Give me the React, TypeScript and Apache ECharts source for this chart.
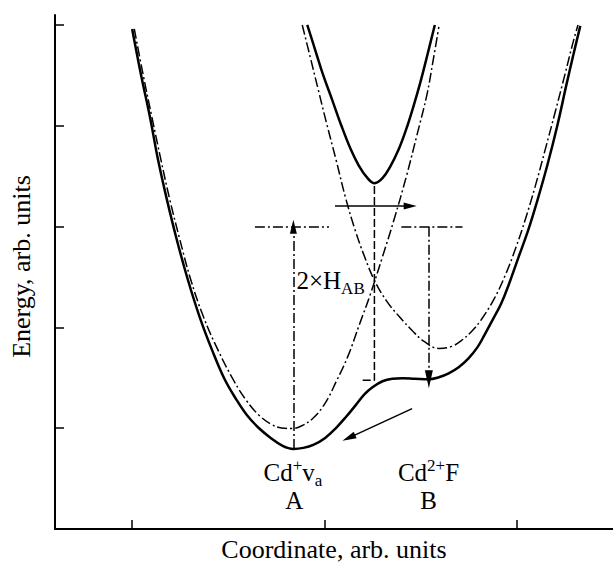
import React, { useEffect, useRef } from "react";
import * as echarts from "echarts";

// Axis ticks (arbitrary units)
const xTicks = [1, 2, 3];
const yTicks = [1, 2, 3, 4, 5];

// Lower adiabatic potential (solid)
const lowerAdiabatic: number[][] = [
  [1.001, 4.962], [1.047, 4.508], [1.094, 4.083], [1.135, 3.668], [1.181, 3.273],
  [1.232, 2.878], [1.289, 2.483], [1.351, 2.108], [1.417, 1.772], [1.479, 1.496],
  [1.541, 1.289], [1.597, 1.131], [1.659, 1.002], [1.721, 0.904], [1.783, 0.825],
  [1.839, 0.795], [1.891, 0.805], [1.942, 0.834], [2.004, 0.904], [2.06, 1.002],
  [2.112, 1.111], [2.163, 1.229], [2.209, 1.338], [2.25, 1.407], [2.302, 1.466],
  [2.353, 1.491], [2.405, 1.496], [2.471, 1.491], [2.543, 1.486], [2.595, 1.506],
  [2.646, 1.545], [2.698, 1.605], [2.749, 1.693], [2.795, 1.802], [2.831, 1.921],
  [2.878, 2.088], [2.919, 2.237], [2.96, 2.434], [3.006, 2.681], [3.058, 2.957],
  [3.109, 3.273], [3.16, 3.619], [3.212, 4.014], [3.258, 4.409], [3.294, 4.705],
  [3.33, 4.992],
];

// Upper adiabatic potential (solid)
const upperAdiabatic: number[][] = [
  [1.911, 5.001], [1.952, 4.755], [1.993, 4.508], [2.04, 4.261], [2.086, 4.014],
  [2.137, 3.767], [2.178, 3.609], [2.22, 3.491], [2.261, 3.431], [2.302, 3.481],
  [2.343, 3.599], [2.384, 3.757], [2.425, 3.965], [2.461, 4.182], [2.497, 4.419],
  [2.533, 4.686], [2.574, 5.001],
];

// Diabatic term A (dash-dot)
const diabaticA: number[][] = [
  [1.012, 4.962], [1.058, 4.508], [1.104, 4.083], [1.15, 3.668], [1.196, 3.273],
  [1.248, 2.878], [1.304, 2.483], [1.371, 2.108], [1.448, 1.772], [1.531, 1.466],
  [1.597, 1.269], [1.659, 1.131], [1.721, 1.042], [1.777, 1.002], [1.829, 0.997],
  [1.88, 1.022], [1.942, 1.101], [2.004, 1.249], [2.06, 1.457], [2.122, 1.713],
  [2.184, 2.039], [2.24, 2.335], [2.302, 2.701], [2.363, 3.076], [2.425, 3.491],
  [2.482, 3.915], [2.533, 4.31], [2.564, 4.636], [2.595, 4.982],
];

// Diabatic term B (dash-dot)
const diabaticB: number[][] = [
  [1.885, 5.001], [1.926, 4.686], [1.968, 4.36], [2.009, 4.044], [2.06, 3.668],
  [2.112, 3.273], [2.158, 2.977], [2.209, 2.701], [2.261, 2.464], [2.322, 2.266],
  [2.389, 2.108], [2.456, 1.97], [2.518, 1.861], [2.595, 1.792], [2.662, 1.812],
  [2.713, 1.871], [2.765, 1.96], [2.816, 2.079], [2.883, 2.286], [2.939, 2.513],
  [2.993, 2.78], [3.045, 3.076], [3.096, 3.402], [3.148, 3.767], [3.199, 4.133],
  [3.25, 4.508], [3.289, 4.804], [3.318, 5.001],
];

// Splitting marker (dashed)
const gapMarker: number[][] = [[2.199, 1.476], [2.26, 1.476], [2.26, 3.431]];

// Level lines and arrows
const levelLeft: number[][] = [[1.639, 3.0], [2.024, 3.0]];
const levelRight: number[][] = [[2.4, 3.0], [2.718, 3.0]];
const arrowA: number[][] = [[1.839, 0.795], [1.839, 3.0]];
const arrowB: number[][] = [[2.543, 3.0], [2.543, 1.486]];
const arrowTransfer: number[][] = [[2.055, 3.204], [2.446, 3.204]];
const arrowRelax: number[][] = [[2.456, 1.195], [2.127, 0.904]];

// Annotation texts
const labelTexts = ["{m|2×H}{b|AB}", "{m|Cd}{s|+}{m|v}{b|a}", "{m|A}", "{m|Cd}{s|2+}{m|F}", "{m|B}"];
const labelPositions: number[][] = [[1.855, 2.464], [1.837, 0.558], [1.844, 0.281], [2.541, 0.558], [2.541, 0.281]];
const labelAligns = ["left", "center", "center", "center", "center"];

const FONT = "'Liberation Serif', 'Times New Roman', serif";
const DASH_DOT = [10, 3, 2, 3];

export default function App() {
  const ref = useRef<HTMLDivElement>(null);

  useEffect(() => {
    document.body.style.margin = "0";
    if (!ref.current) return;
    const chart = echarts.init(ref.current, undefined, { renderer: "svg" });

    const curve = (name: string, data: number[][], width: number, type: any) => ({
      name,
      type: "line",
      data,
      smooth: 0.4,
      showSymbol: false,
      symbol: "none",
      silent: true,
      lineStyle: { color: "#000", width, type },
      emphasis: { disabled: true },
    });

    const seg = (pts: number[][], endSymbol: string, size: number[]) => [
      { coord: pts[0], symbol: "none" },
      { coord: pts[1], symbol: endSymbol, symbolSize: size },
    ];

    const option: any = {
      animation: false,
      backgroundColor: "#fff",
      grid: { left: 49, right: 0, top: 15, bottom: 35.5, containLabel: false },
      xAxis: {
        type: "value",
        min: 0.6,
        max: 3.5,
        name: "Coordinate, arb. units",
        nameLocation: "middle",
        nameGap: 7,
        nameTextStyle: { fontFamily: FONT, fontSize: 26, color: "#000" },
        axisLine: { show: true, onZero: false, lineStyle: { color: "#000", width: 2 } },
        axisTick: { show: true, inside: true, length: 9, customValues: xTicks, lineStyle: { color: "#000", width: 1.5 } },
        axisLabel: { show: false },
        splitLine: { show: false },
      },
      yAxis: {
        type: "value",
        min: 0,
        max: 5.1,
        name: "Energy, arb. units",
        nameLocation: "middle",
        nameGap: 21,
        nameTextStyle: { fontFamily: FONT, fontSize: 26, color: "#000", padding: [0, 0, 0, 11] },
        axisLine: { show: true, onZero: false, lineStyle: { color: "#000", width: 2 } },
        axisTick: { show: true, inside: true, length: 9, customValues: yTicks, lineStyle: { color: "#000", width: 1.5 } },
        axisLabel: { show: false },
        splitLine: { show: false },
      },
      series: [
        curve("Lower adiabatic", lowerAdiabatic, 2.5, "solid"),
        curve("Upper adiabatic", upperAdiabatic, 2.5, "solid"),
        curve("Diabatic A", diabaticA, 1.5, DASH_DOT),
        curve("Diabatic B", diabaticB, 1.5, DASH_DOT),
        {
          name: "Splitting",
          type: "line",
          data: gapMarker,
          showSymbol: false,
          symbol: "none",
          silent: true,
          lineStyle: { color: "#000", width: 1.5, type: [8, 3] },
          emphasis: { disabled: true },
        },
        {
          name: "Levels",
          type: "line",
          data: [],
          silent: true,
          markLine: {
            silent: true,
            animation: false,
            symbol: ["none", "none"],
            label: { show: false },
            emphasis: { disabled: true },
            lineStyle: { color: "#000", width: 1.5, type: DASH_DOT },
            data: [
              seg(levelLeft, "none", [0, 0]),
              seg(levelRight, "none", [0, 0]),
              seg(arrowA, "triangle", [7, 14]),
              seg(arrowB, "triangle", [8, 18]),
            ],
          },
        },
        {
          name: "Arrows",
          type: "line",
          data: [],
          silent: true,
          markLine: {
            silent: true,
            animation: false,
            symbol: ["none", "none"],
            label: { show: false },
            emphasis: { disabled: true },
            lineStyle: { color: "#000", width: 1.5, type: "solid" },
            data: [
              seg(arrowTransfer, "triangle", [7, 13]),
              seg(arrowRelax, "triangle", [7, 14]),
            ],
          },
        },
      ],
    };

    chart.setOption(option);

    const rich = {
      m: { fontFamily: FONT, fontSize: 25, lineHeight: 32, fill: "#000", color: "#000" },
      s: { fontFamily: FONT, fontSize: 17, lineHeight: 17, verticalAlign: "top", fill: "#000", color: "#000" },
      b: { fontFamily: FONT, fontSize: 17, lineHeight: 17, verticalAlign: "bottom", fill: "#000", color: "#000" },
    };

    const graphics = labelTexts.map((t, i) => {
      const p = chart.convertToPixel({ xAxisIndex: 0, yAxisIndex: 0 }, labelPositions[i]) as number[];
      return {
        type: "text",
        x: p[0],
        y: p[1],
        silent: true,
        style: {
          text: t,
          rich,
          fontFamily: FONT,
          fontSize: 25,
          fill: "#000",
          align: labelAligns[i],
          textAlign: labelAligns[i],
          verticalAlign: "middle",
          textVerticalAlign: "middle",
        },
      };
    });
    chart.setOption({ graphic: graphics });

    return () => chart.dispose();
  }, []);

  return <div ref={ref} style={{ width: 613, height: 567 }} />;
}
